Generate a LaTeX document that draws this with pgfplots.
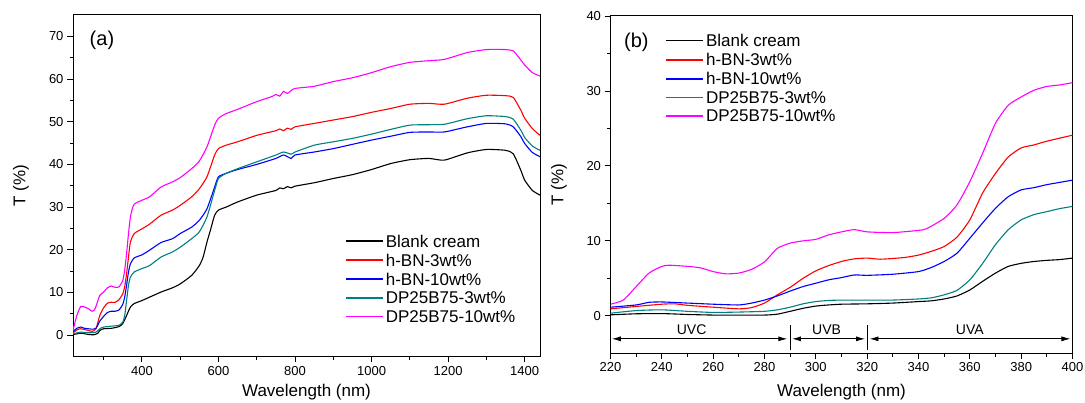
\documentclass[border=0pt]{standalone}
\usepackage{pgfplots}
\pgfplotsset{compat=1.18}
\usepackage{fontspec}
\setmainfont{Liberation Sans}
\usetikzlibrary{arrows.meta}

\definecolor{cBlank}{RGB}{0,0,0}
\definecolor{cBN3}{RGB}{255,0,0}
\definecolor{cBN10}{RGB}{0,0,255}
\definecolor{cDP3}{RGB}{0,128,128}
\definecolor{cDP10}{RGB}{255,0,255}

\pgfplotsset{
  panel/.style={
    scale only axis,
    axis line style={line width=1pt},
    tick align=outside,
    xtick pos=left, ytick pos=left,
    major tick length=6pt, minor tick length=3.5pt,
    every tick/.style={black, line width=0.9pt},
    tick label style={font=\fontsize{13}{15}\selectfont},
    label style={font=\fontsize{17}{20}\selectfont},
    /pgf/number format/assume math mode=true,
    /pgf/number format/1000 sep={},
    legend style={draw=none, fill=none, font=\fontsize{17}{20}\selectfont,
      anchor=north west, cells={anchor=west}, row sep=1.2pt, inner sep=0pt,
      nodes={inner sep=2pt}},
    legend image code/.code={%
      \draw[#1, line width=1.4pt] (0pt,0.5pt) -- (37pt,0.5pt);},
    every axis plot/.append style={line width=1.1pt, no markers, smooth, tension=0.35},
    xlabel={Wavelength (nm)}, ylabel={T (\%)},
  }
}

\begin{document}
\begin{tikzpicture}
\useasboundingbox (0pt,0pt) rectangle (1085pt,403pt);

% ---------------- (a) full range ----------------
\begin{axis}[panel,
  at={(73pt,46.5pt)}, anchor=south west,
  width=467pt, height=341.5pt,
  xmin=220, xmax=1440, ymin=-5, ymax=75,
  xtick={400,600,...,1400}, minor xtick={300,500,...,1300},
  ytick={0,10,...,70}, minor ytick={5,15,...,65},
  ylabel style={at={(axis description cs:-0.1113,0.5)}, anchor=center, rotate=0},
  xlabel style={at={(axis description cs:0.5,0)}, yshift=-40pt, anchor=base},
  legend style={at={(rel axis cs:0.583,0.363)}},
]
\addplot[cBlank] coordinates {(220,0.15)(230,0.3)(240,0.45)(250,0.35)(260,0.15)(275,0.1)(285,0.45)(290,1.1)(300,1.5)(320,1.6)(340,2.0)(350,2.7)(360,4.6)(370,6.6)(380,7.4)(400,8.1)(420,8.9)(450,10.1)(480,11.1)(500,12.0)(530,14.0)(550,16.3)(560,18.3)(570,21.8)(580,24.9)(590,28.1)(600,29.3)(620,30.0)(650,31.2)(700,32.8)(750,33.9)(760,34.5)(770,34.3)(780,34.8)(790,34.5)(800,34.9)(850,35.7)(900,36.7)(950,37.6)(1000,38.8)(1050,40.2)(1100,41.1)(1150,41.4)(1190,41.0)(1250,42.7)(1300,43.5)(1350,43.3)(1370,42.5)(1390,38.6)(1400,36.3)(1420,33.9)(1440,32.8)};
\addlegendentry{Blank cream}
\addplot[cBN3] coordinates {(220,0.5)(230,1.25)(240,1.5)(250,1.3)(260,1.1)(270,0.9)(280,1.5)(290,4.6)(300,6.4)(310,7.5)(320,7.7)(330,7.7)(340,8.3)(350,9.7)(355,11.3)(360,14.4)(365,18.3)(370,21.8)(380,23.8)(400,24.9)(420,26.0)(450,28.1)(480,29.3)(500,30.4)(530,32.4)(550,34.3)(570,37.1)(590,42.2)(600,43.7)(620,44.5)(650,45.3)(700,46.8)(750,47.9)(760,48.3)(770,47.9)(780,48.5)(790,48.2)(800,48.8)(850,49.6)(900,50.4)(950,51.2)(1000,52.2)(1050,53.1)(1100,54.1)(1150,54.3)(1190,54.1)(1250,55.5)(1300,56.2)(1350,56.1)(1370,55.7)(1390,52.7)(1400,50.8)(1420,48.4)(1440,46.8)};
\addlegendentry{h-BN-3wt\%}
\addplot[cBN10] coordinates {(220,0.85)(230,1.6)(240,1.9)(250,1.6)(260,1.5)(270,1.4)(280,1.6)(290,3.3)(300,4.4)(310,5.3)(320,5.6)(330,5.6)(340,5.9)(350,7.2)(355,8.9)(360,11.7)(365,14.8)(370,16.7)(380,18.1)(400,18.8)(420,19.9)(450,21.7)(480,22.6)(500,23.8)(530,25.3)(550,26.9)(570,29.6)(590,34.7)(600,37.1)(620,37.9)(650,38.8)(700,40.0)(750,41.4)(770,42.2)(790,41.4)(800,42.2)(850,42.9)(900,43.7)(950,44.7)(1000,45.7)(1050,46.6)(1100,47.5)(1150,47.6)(1190,47.6)(1250,48.8)(1300,49.6)(1350,49.5)(1370,48.8)(1390,46.5)(1400,44.9)(1420,42.8)(1440,41.8)};
\addlegendentry{h-BN-10wt\%}
\addplot[cDP3] coordinates {(220,0.3)(240,0.7)(260,0.55)(280,0.7)(290,1.5)(300,1.9)(320,2.1)(340,2.3)(350,3.05)(355,4.6)(360,8.1)(365,11.7)(370,13.6)(380,14.8)(400,15.6)(420,16.3)(450,18.3)(480,19.5)(500,20.6)(530,22.6)(550,24.2)(570,27.7)(590,33.9)(600,36.7)(620,37.9)(650,39.0)(700,40.6)(750,42.2)(770,42.9)(790,42.4)(800,42.9)(850,44.5)(900,45.3)(950,46.1)(1000,47.1)(1050,48.2)(1100,49.2)(1150,49.3)(1190,49.4)(1250,50.7)(1300,51.4)(1350,51.2)(1370,50.6)(1390,48.0)(1400,46.3)(1420,44.3)(1440,43.3)};
\addlegendentry{DP25B75-3wt\%}
\addplot[cDP10] coordinates {(220,1.1)(230,4.6)(240,6.7)(250,6.6)(260,6.2)(270,5.6)(275,5.8)(280,6.7)(290,9.3)(300,10.1)(310,11.1)(320,11.5)(330,11.2)(340,11.3)(350,12.8)(355,15.2)(360,19.1)(365,23.8)(370,27.7)(375,29.6)(380,30.7)(400,31.6)(420,32.4)(450,34.7)(480,35.9)(500,36.9)(530,39.0)(550,40.8)(570,44.1)(590,49.2)(600,50.8)(620,51.9)(650,52.9)(700,54.7)(740,55.9)(750,56.4)(760,56.0)(770,57.1)(780,56.6)(790,57.3)(800,57.8)(850,58.3)(900,59.4)(950,60.3)(1000,61.5)(1050,62.9)(1100,63.9)(1150,64.3)(1190,64.6)(1250,66.2)(1300,66.9)(1350,66.9)(1370,66.6)(1380,65.6)(1400,63.3)(1420,61.5)(1440,60.7)};
\addlegendentry{DP25B75-10wt\%}
\node[font=\fontsize{20}{24}\selectfont, anchor=center] at (rel axis cs:0.062,0.927) {(a)};
\end{axis}

% ---------------- (b) UV range ----------------
\begin{axis}[panel,
  at={(610.5pt,49.7pt)}, anchor=south west,
  width=462pt, height=337.3pt,
  xmin=220, xmax=400, ymin=-5, ymax=40,
  xtick={220,240,...,400}, minor xtick={230,250,...,390},
  ytick={0,10,...,40}, minor ytick={5,15,25,35},
  ylabel style={at={(axis description cs:-0.1115,0.5)}, anchor=center, rotate=0},
  xlabel style={at={(axis description cs:0.5,0)}, yshift=-43.3pt, anchor=base},
  legend style={at={(rel axis cs:0.119,0.952)}},
]
\addplot[cBlank] coordinates {(220,0.13)(230,0.27)(240,0.3)(250,0.18)(260,0.1)(270,0.1)(280,0.1)(285,0.22)(290,0.6)(295,1.0)(300,1.3)(305,1.45)(310,1.55)(320,1.6)(330,1.7)(340,1.9)(345,2.0)(350,2.25)(355,2.65)(360,3.45)(365,4.6)(370,5.7)(375,6.6)(380,7.0)(385,7.25)(390,7.4)(395,7.5)(400,7.7)};
\addlegendentry{Blank cream}
\addplot[cBN3] coordinates {(220,0.93)(230,1.25)(240,1.55)(245,1.6)(250,1.4)(260,1.15)(270,0.93)(275,1.1)(280,1.7)(285,2.8)(290,3.8)(295,5.0)(300,6.0)(305,6.7)(310,7.25)(315,7.6)(320,7.7)(325,7.55)(330,7.65)(335,7.8)(340,8.1)(345,8.6)(350,9.25)(355,10.5)(360,12.8)(365,16.4)(370,19.0)(375,21.2)(380,22.4)(385,22.8)(390,23.3)(395,23.7)(400,24.1)};
\addlegendentry{h-BN-3wt\%}
\addplot[cBN10] coordinates {(220,1.15)(230,1.45)(235,1.8)(240,1.85)(250,1.7)(260,1.55)(270,1.45)(275,1.7)(280,2.1)(285,2.65)(290,3.3)(295,3.9)(300,4.35)(305,4.8)(310,5.1)(315,5.45)(320,5.4)(330,5.55)(340,5.9)(345,6.45)(350,7.25)(355,8.35)(360,10.35)(365,12.4)(370,14.35)(375,15.9)(380,16.8)(385,17.1)(390,17.5)(395,17.8)(400,18.1)};
\addlegendentry{h-BN-10wt\%}
\addplot[cDP3] coordinates {(220,0.35)(230,0.7)(240,0.8)(250,0.6)(260,0.45)(270,0.5)(280,0.6)(285,0.8)(290,1.15)(295,1.6)(300,1.9)(305,2.05)(310,2.1)(320,2.1)(330,2.1)(340,2.25)(345,2.4)(350,2.8)(355,3.4)(360,4.8)(365,7.0)(370,9.5)(375,11.5)(380,12.8)(385,13.5)(390,13.9)(395,14.3)(400,14.6)};
\addlegendentry{DP25B75-3wt\%}
\addplot[cDP10] coordinates {(220,1.55)(225,2.1)(230,3.9)(235,5.7)(240,6.6)(243,6.75)(250,6.6)(255,6.4)(260,5.9)(265,5.6)(270,5.7)(275,6.2)(280,7.2)(285,9.0)(290,9.7)(295,10.0)(300,10.2)(305,10.8)(310,11.2)(315,11.5)(320,11.2)(330,11.1)(340,11.4)(343,11.6)(350,13.0)(355,14.8)(360,17.9)(365,21.7)(370,25.7)(375,28.1)(380,29.2)(385,30.1)(390,30.6)(395,30.8)(400,31.1)};
\addlegendentry{DP25B75-10wt\%}
% UV band markers
\draw[line width=0.9pt] (axis cs:290,-1.2) -- (axis cs:290,-4.5);
\draw[line width=0.9pt] (axis cs:320,-1.2) -- (axis cs:320,-4.5);
\draw[line width=0.9pt, {Latex[length=9pt,width=5pt]}-{Latex[length=9pt,width=5pt]}] (axis cs:220.5,-3.07) -- (axis cs:288.9,-3.07);
\draw[line width=0.9pt, {Latex[length=9pt,width=5pt]}-{Latex[length=9pt,width=5pt]}] (axis cs:290.7,-3.07) -- (axis cs:319.2,-3.07);
\draw[line width=0.9pt, {Latex[length=9pt,width=5pt]}-{Latex[length=9pt,width=5pt]}] (axis cs:320.9,-3.07) -- (axis cs:399.2,-3.07);
\node[font=\fontsize{14}{16}\selectfont] at (axis cs:251.6,-1.87) {UVC};
\node[font=\fontsize{14}{16}\selectfont] at (axis cs:304.2,-1.87) {UVB};
\node[font=\fontsize{14}{16}\selectfont] at (axis cs:360,-1.87) {UVA};
\node[font=\fontsize{20}{24}\selectfont, anchor=center] at (rel axis cs:0.056,0.923) {(b)};
\end{axis}
\end{tikzpicture}
\end{document}
